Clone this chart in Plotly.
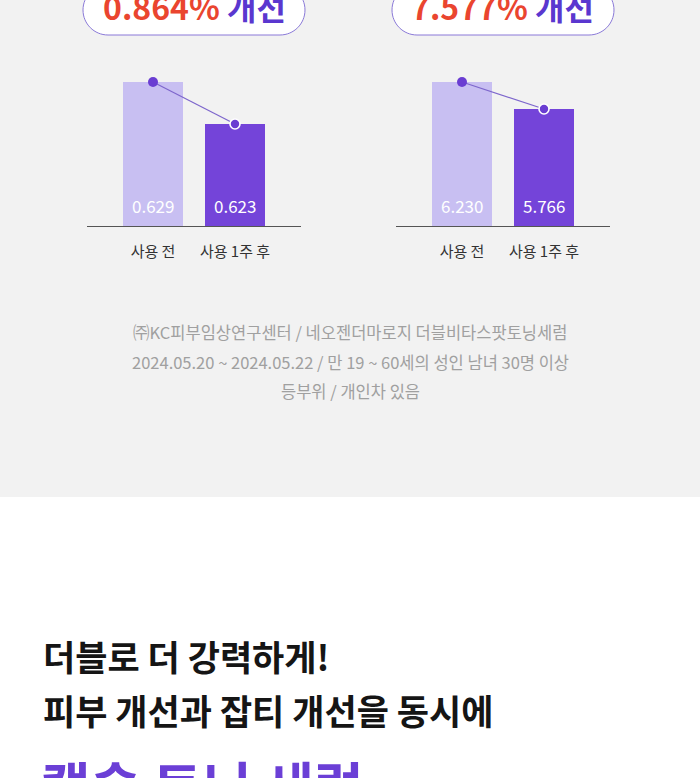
import plotly.graph_objects as go

W, H = 700, 778

# ---------------- data ----------------
categories = ["사용 전", "사용 1주 후"]
chart1_values = [0.629, 0.623]
chart2_values = [6.230, 5.766]
chart1_improve = "0.864%"
chart2_improve = "7.577%"
improve_word = "개선"
footnote_lines = [
    "㈜KC피부임상연구센터 / 네오젠더마로지 더블비타스팟토닝세럼",
    "2024.05.20 ~ 2024.05.22 / 만 19 ~ 60세의 성인 남녀 30명 이상",
    "등부위 / 개인차 있음",
]
headline_lines = ["더블로 더 강력하게!", "피부 개선과 잡티 개선을 동시에"]
product_line = "캡슐 토닝 세럼"

# ---------------- styles ----------------
FONT = "Noto Sans CJK KR"
BG_GRAY = "#f2f2f2"
LIGHT_BAR = "#c8bff2"
DARK_BAR = "#7444d9"
DOT = "#6a3dd2"
LINE = "#7d66cc"
RED = "#ea452f"
PURPLE_TXT = "#5a37cf"


def px(x):
    return x / W


def py(y):
    return 1 - y / H


fig = go.Figure()

charts = [
    dict(vals=chart1_values, xr="x", yr="y", xdom=(87, 301), yrange=(0.608429, 0.631857)),
    dict(vals=chart2_values, xr="x2", yr="y2", xdom=(396, 610), yrange=(3.7553, 6.5737)),
]

for c in charts:
    fig.add_trace(go.Bar(
        x=categories, y=c["vals"], xaxis=c["xr"], yaxis=c["yr"],
        marker=dict(color=[LIGHT_BAR, DARK_BAR], line=dict(width=0)),
        width=0.73, showlegend=False, hoverinfo="skip",
    ))
    fig.add_trace(go.Scatter(
        x=categories, y=c["vals"], xaxis=c["xr"], yaxis=c["yr"],
        mode="lines+markers",
        line=dict(color=LINE, width=1.2),
        marker=dict(size=10, color=[DOT, DOT],
                    line=dict(color=[DOT, "white"], width=[0, 1.6])),
        showlegend=False, hoverinfo="skip", cliponaxis=False,
    ))

layout_axes = {}
for i, c in enumerate(charts):
    sfx = "" if i == 0 else str(i + 1)
    span = (c["xdom"][1] - c["xdom"][0]) / 82.0
    layout_axes["xaxis" + sfx] = dict(
        domain=[px(c["xdom"][0]), px(c["xdom"][1])],
        anchor="y" + sfx, type="category",
        range=[0.5 - span / 2, 0.5 + span / 2],
        showline=True, linecolor="#555555", linewidth=1,
        showgrid=False, zeroline=False, ticks="",
        tickfont=dict(family=FONT, size=15, color="#333333"),
        ticklabelstandoff=12, fixedrange=True,
    )
    layout_axes["yaxis" + sfx] = dict(
        domain=[py(226), py(62)], anchor="x" + sfx,
        range=list(c["yrange"]), visible=False, fixedrange=True,
    )

annotations = []
# value labels inside bars
for i, c in enumerate(charts):
    sfx = "" if i == 0 else str(i + 1)
    for cat, v in zip(categories, c["vals"]):
        annotations.append(dict(
            x=cat, xref="x" + sfx, y=0, yref=("y" + sfx + " domain"),
            text=f"{v:.3f}", showarrow=False, yanchor="middle", yshift=20,
            font=dict(family=FONT, size=17, color="white"),
        ))

shapes = [
    dict(type="rect", xref="paper", yref="paper", x0=0, x1=1, y0=py(497), y1=1,
         fillcolor=BG_GRAY, line=dict(width=0), layer="below"),
]


def pill(x0, x1, y0, y1, r):
    k = 0.5523 * r

    def P(x, y):
        return f"{px(x):.5f},{py(y):.5f}"
    d = (f"M {P(x0 + r, y0)} L {P(x1 - r, y0)} "
         f"C {P(x1 - r + k, y0)} {P(x1, y0 + r - k)} {P(x1, y0 + r)} "
         f"L {P(x1, y1 - r)} "
         f"C {P(x1, y1 - r + k)} {P(x1 - r + k, y1)} {P(x1 - r, y1)} "
         f"L {P(x0 + r, y1)} "
         f"C {P(x0 + r - k, y1)} {P(x0, y1 - r + k)} {P(x0, y1 - r)} "
         f"L {P(x0, y0 + r)} "
         f"C {P(x0, y0 + r - k)} {P(x0 + r - k, y0)} {P(x0 + r, y0)} Z")
    return dict(type="path", xref="paper", yref="paper", path=d,
                fillcolor="white", line=dict(color="#8a79d8", width=1), layer="above")


for (a, b), txt in [((83, 305), chart1_improve), ((392, 614), chart2_improve)]:
    shapes.append(pill(a, b, -15, 35, 25))
    annotations.append(dict(
        x=px((a + b) / 2), y=py(6), xref="paper", yref="paper",
        text=f"<b><span style='color:{RED}'>{txt}</span> <span style='color:{PURPLE_TXT}'>{improve_word}</span></b>",
        showarrow=False, xanchor="center", yanchor="middle",
        font=dict(family=FONT, size=32),
    ))

for yy, line in zip([332, 362, 391], footnote_lines):
    annotations.append(dict(
        x=0.5, y=py(yy), xref="paper", yref="paper", text=line, showarrow=False,
        xanchor="center", yanchor="middle",
        font=dict(family=FONT, size=16.5, color="#a0a0a0"),
    ))

for yy, line in zip([655, 709], headline_lines):
    annotations.append(dict(
        x=px(41), y=py(yy), xref="paper", yref="paper", text=f"<b>{line}</b>",
        showarrow=False, xanchor="left", yanchor="middle",
        font=dict(family=FONT, size=35, color="#151515"),
    ))

annotations.append(dict(
    x=px(39), y=py(784), xref="paper", yref="paper", text=f"<b>{product_line}</b>",
    showarrow=False, xanchor="left", yanchor="middle",
    font=dict(family=FONT, size=54, color="#6b3fd6"),
))

fig.update_layout(
    width=W, height=H,
    margin=dict(l=0, r=0, t=0, b=0),
    paper_bgcolor="white", plot_bgcolor="rgba(0,0,0,0)",
    shapes=shapes, annotations=annotations,
    bargap=0, showlegend=False,
    **layout_axes,
)

fig.write_html("out.html", config={"displayModeBar": False},
               post_script="document.body.style.margin='0';document.body.style.overflow='hidden';")
